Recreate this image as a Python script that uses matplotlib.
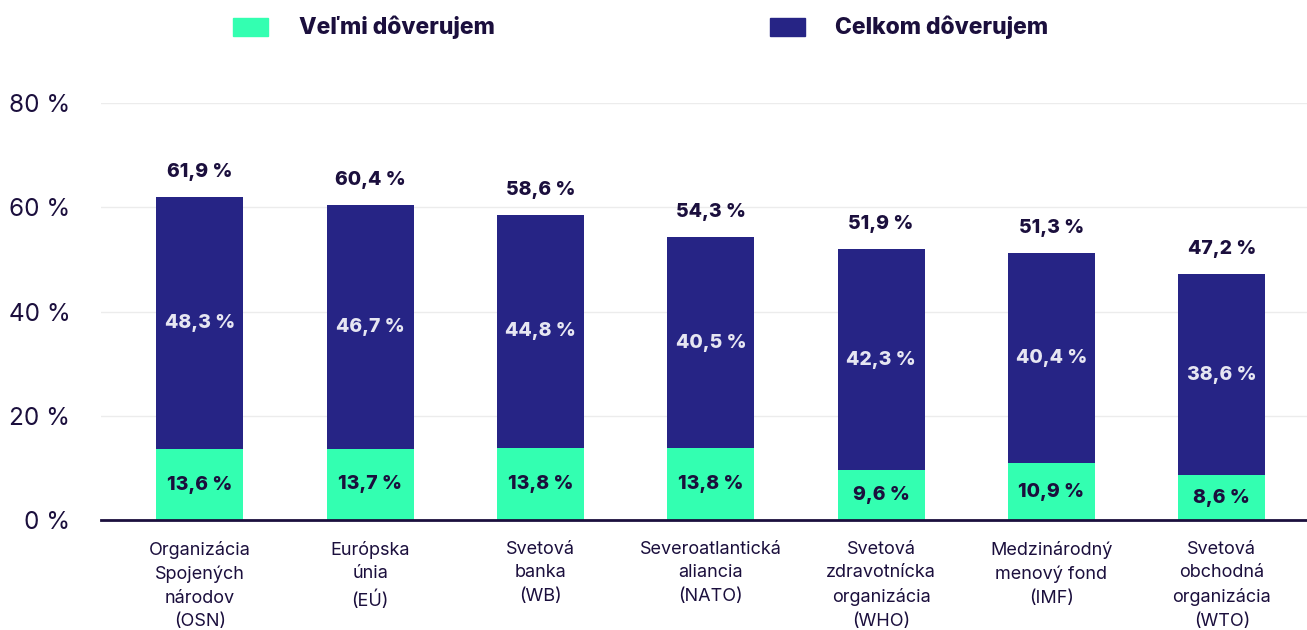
import matplotlib
matplotlib.use("Agg")
import matplotlib.pyplot as plt
from matplotlib.patches import Rectangle

categories = ["Organizácia\nSpojených\nnárodov\n(OSN)", "Európska\núnia\n(EÚ)",
              "Svetová\nbanka\n(WB)", "Severoatlantická\naliancia\n(NATO)",
              "Svetová\nzdravotnícka\norganizácia\n(WHO)", "Medzinárodný\nmenový fond\n(IMF)",
              "Svetová\nobchodná\norganizácia\n(WTO)"]
velmi = [13.6, 13.7, 13.8, 13.8, 9.6, 10.9, 8.6]
celkom = [48.3, 46.7, 44.8, 40.5, 42.3, 40.4, 38.6]
totals = [61.9, 60.4, 58.6, 54.3, 51.9, 51.3, 47.2]
yticks = [0, 20, 40, 60, 80]

GREEN = "#33ffb1"
NAVY = "#262485"
TEXT = "#1b0f3d"

plt.rcParams['font.family'] = ['Inter', 'DejaVu Sans']

fig = plt.figure(figsize=(13.07, 6.30), dpi=100)
ax = fig.add_axes([0.0773, 0.1746, 0.9227, 0.6619])

x = list(range(len(categories)))
ax.bar(x, velmi, width=0.51, color=GREEN, zorder=3)
ax.bar(x, celkom, width=0.51, bottom=velmi, color=NAVY, zorder=3)

def fmt(v):
    return f"{v:.1f}".replace(".", ",") + " %"

for i in x:
    ax.text(i, velmi[i] / 2, fmt(velmi[i]), ha="center", va="center",
            fontsize=14, fontweight=800, color=TEXT, zorder=4)
    ax.text(i, velmi[i] + celkom[i] / 2, fmt(celkom[i]), ha="center", va="center",
            fontsize=14, fontweight=800, color="#e6e6f2", zorder=4)
    ax.text(i, totals[i] + 4.8, fmt(totals[i]), ha="center", va="center",
            fontsize=14, fontweight=800, color=TEXT, zorder=4)

ax.set_xlim(-0.58, 6.5)
ax.set_ylim(0, 80)
ax.set_yticks(yticks)
ax.set_yticklabels([f"{t} %" for t in yticks], fontsize=17.5, color=TEXT)
ax.set_xticks(x)
ax.set_xticklabels(categories, fontsize=13, color=TEXT, linespacing=1.5, va="top")
ax.tick_params(axis="both", length=0)
ax.tick_params(axis="x", pad=15)
ax.tick_params(axis="y", pad=22)
for lbl in ax.get_yticklabels():
    lbl.set_horizontalalignment("right")

ax.grid(axis="y", color="#ececec", linewidth=1, zorder=0)
ax.set_axisbelow(True)
for s in ["top", "right", "left"]:
    ax.spines[s].set_visible(False)
ax.spines["bottom"].set_color(TEXT)
ax.spines["bottom"].set_linewidth(2)
ax.spines["bottom"].set_zorder(5)

# legend
fig.patches.append(Rectangle((233 / 1307, 1 - 36 / 630), 35 / 1307, 18 / 630,
                             transform=fig.transFigure, color=GREEN))
fig.text(299 / 1307, 1 - 27 / 630, "Veľmi dôverujem", fontsize=16.5, fontweight=800,
         color=TEXT, va="center", ha="left")
fig.patches.append(Rectangle((770 / 1307, 1 - 36 / 630), 35 / 1307, 18 / 630,
                             transform=fig.transFigure, color=NAVY))
fig.text(835 / 1307, 1 - 27 / 630, "Celkom dôverujem", fontsize=16.5, fontweight=800,
         color=TEXT, va="center", ha="left")

fig.savefig("out.png", dpi=100)
